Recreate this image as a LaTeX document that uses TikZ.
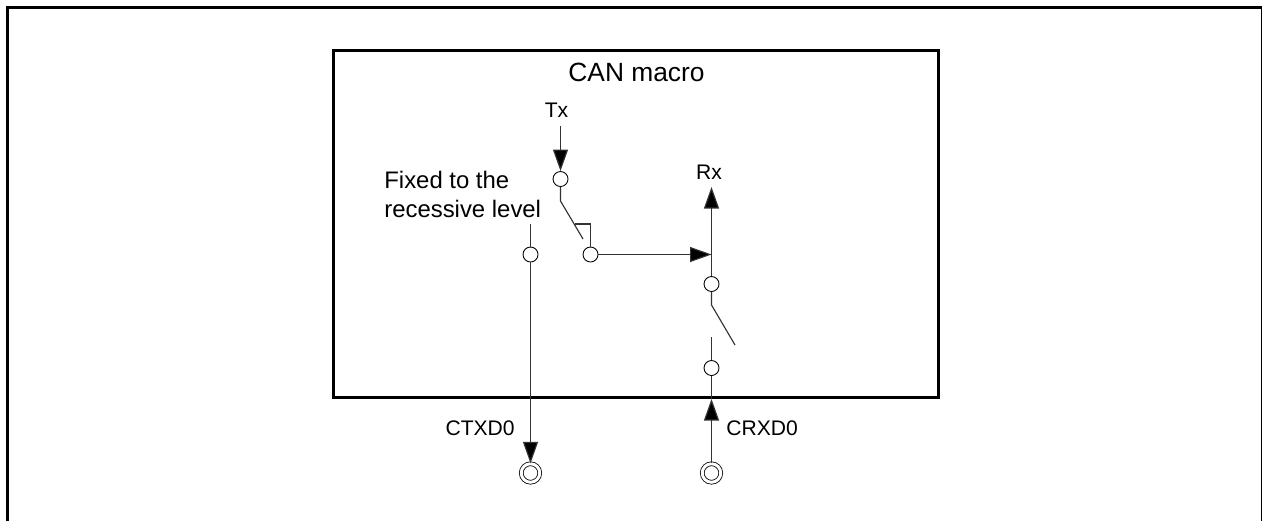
\documentclass[tikz,border=0pt]{standalone}
\usepackage{fontspec}
\setmainfont{Liberation Sans}
\usetikzlibrary{positioning,arrows.meta}

\begin{document}
\begin{tikzpicture}[
  thick box/.style={draw, line width=1.7pt},
  wire/.style={line width=0.65pt, draw=black!80},
  arr/.style={wire, -{Triangle[length=0.43cm,width=0.3cm,fill=black]}},
  pin/.style={draw, circle, fill=white, minimum size=0.3cm, inner sep=0, line width=0.5pt},
  pad/.style={draw, circle, double, double distance=0.06cm, fill=white, minimum size=0.37cm, inner sep=0, line width=0.45pt},
  lbl/.style={font=\fontsize{12pt}{14pt}\selectfont, inner sep=0},
  title/.style={font=\fontsize{15pt}{18pt}\selectfont, inner sep=0}
]
\useasboundingbox (0,0) rectangle (25.24,-10.42);

%% -- frame and macro box
\coordinate (fa) at (0.15,-10.42);
\coordinate (fb) at (0.15,-0.15);
\coordinate (fc) at (25.24,-0.15);
\coordinate (fd) at (25.24,-10.42);
\draw[thick box] (fa) -- (fb) -- (fc) -- (fd);
\node[thick box, minimum width=12.09cm, minimum height=6.94cm, inner sep=0] (can) at (12.715,-4.48) {};
\node[title] (ttl) at (12.73,-1.44) {CAN macro};

%% -- contacts
\node[pin] (ptx)  at (11.21,-3.58)  {};
\node[pin] (pout) at (11.81,-5.09)  {};
\node[pin] (pfix) at (10.61,-5.09)  {};
\node[pin] (prx)  at (14.23,-5.68)  {};
\node[pin] (pcr)  at (14.23,-7.36)  {};
\node[pad] (ctx)  at (10.61,-9.46)  {};
\node[pad] (crx)  at (14.23,-9.46)  {};

%% -- labels
\node[lbl] (ltx) at (11.13,-2.2) {Tx};
\node[lbl] (lrx) at (14.18,-3.44) {Rx};
\node[lbl, align=left, anchor=north west, font=\fontsize{13.6pt}{16.5pt}\selectfont] (lfix) at (7.68,-3.42) {Fixed to the\\recessive level};
\node[lbl, anchor=east] (lctx) at (10.3,-8.56) {CTXD0};
\node[lbl, anchor=west] (lcrx) at (14.52,-8.56) {CRXD0};

%% -- helper points
\coordinate (txtop) at (11.21,-2.52);
\coordinate (txk)   at (11.21,-4.02);
\coordinate (txe)   at (11.66,-4.78);
\coordinate (brk)   at (11.5,-4.48);
\coordinate (fixt)  at (10.61,-4.48);
\coordinate (junc)  at (14.23,-5.09);
\coordinate (rxtop) at (14.23,-3.74);
\coordinate (rxk)   at (14.23,-6.1);
\coordinate (rxe)   at (14.7,-6.9);
\coordinate (crt)   at (14.23,-6.74);

%% -- edges
\draw[arr] (txtop) -- (ptx.north);
\draw[wire] (ptx) -- (txk) -- (txe);
\draw[wire] (brk) -| (pout.north);
\draw[arr] (pout) -- (junc);
\draw[wire] (fixt) -- (pfix);
\draw[arr] (pfix) -- (ctx.north);
\draw[arr] (prx.north) -- (rxtop);
\draw[wire] (prx) -- (rxk) -- (rxe);
\draw[wire] (crt) -- (pcr);
\draw[wire] (pcr) -- (can.south -| pcr);
\draw[arr] (crx.north) -- (can.south -| crx);

\end{tikzpicture}
\end{document}
